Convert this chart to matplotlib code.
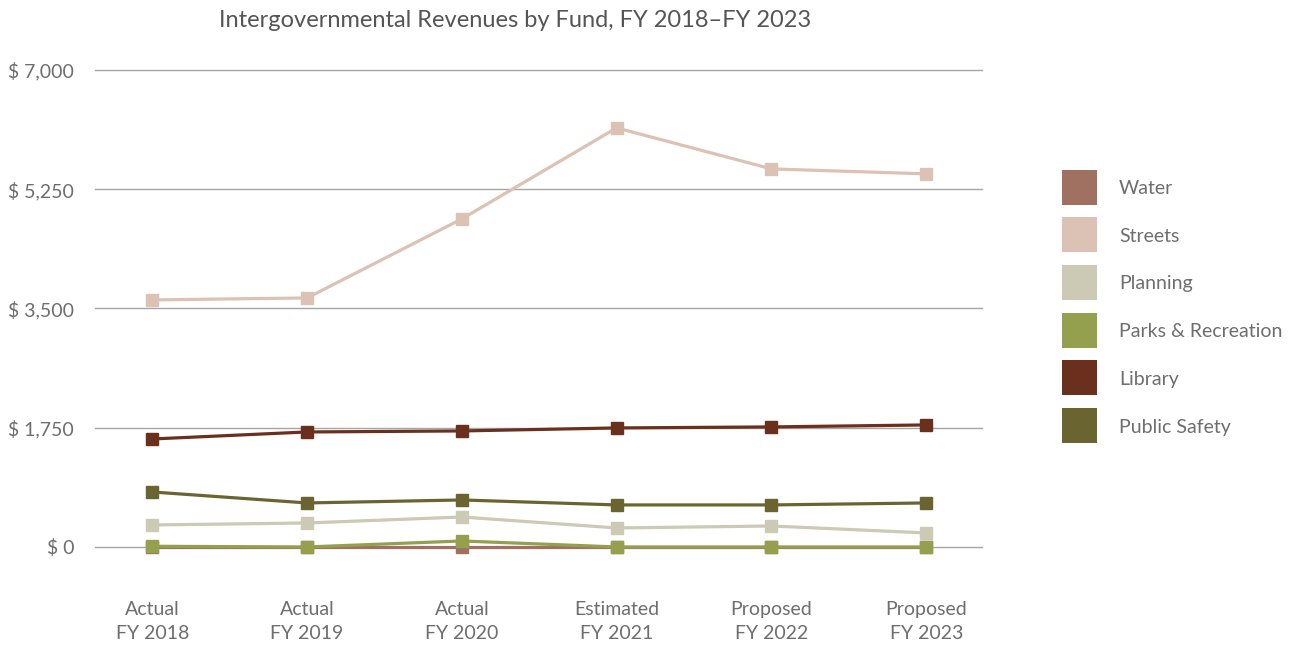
import matplotlib.pyplot as plt
from matplotlib.patches import Rectangle
from matplotlib.ticker import FuncFormatter

plt.rcParams['font.family'] = ['Lato', 'DejaVu Sans']

years = ["Actual\nFY 2018", "Actual\nFY 2019", "Actual\nFY 2020",
         "Estimated\nFY 2021", "Proposed\nFY 2022", "Proposed\nFY 2023"]

water = [0, 0, 0, 0, 0, 0]
streets = [3626, 3655, 4815, 6151, 5549, 5476]
planning = [323, 352, 440, 279, 308, 206]
parks = [10, 0, 88, 0, 0, 0]
library = [1585, 1688, 1703, 1747, 1762, 1791]
public_safety = [807, 646, 690, 617, 617, 646]

series = [
    ("Water", water, "#A07060"),
    ("Streets", streets, "#DCC2B4"),
    ("Planning", planning, "#CCC9B5"),
    ("Parks & Recreation", parks, "#95A04E"),
    ("Library", library, "#6B2F1E"),
    ("Public Safety", public_safety, "#6A6530"),
]

text_color = "#6E6E6E"

fig = plt.figure(figsize=(12.91, 6.46), dpi=100)
ax = fig.add_axes([0.0736, 0.1533, 0.687, 0.7383])

x = range(len(years))
for name, vals, col in series:
    ax.plot(x, vals, color=col, linewidth=2.3, marker='s', markersize=8.5,
            clip_on=False, zorder=3)

ax.set_ylim(0, 7000)
ax.set_xlim(-0.37, 5.36)
ax.set_yticks([0, 1750, 3500, 5250, 7000])
ax.yaxis.set_major_formatter(FuncFormatter(lambda v, p: "$ {:,.0f}".format(v)))
ax.set_xticks(list(x))
ax.set_xticklabels(years, linespacing=1.5)
ax.grid(axis='y', color="#A6A6A6", linewidth=1)
for gl in ax.get_ygridlines():
    gl.set_clip_on(False)
ax.set_axisbelow(True)
for s in ax.spines.values():
    s.set_visible(False)
ax.tick_params(axis='both', length=0, labelsize=14, labelcolor=text_color)
ax.tick_params(axis='x', pad=39)
ax.tick_params(axis='y', pad=15)

fig.text(0.399, 0.968, "Intergovernmental Revenues by Fund, FY 2018\u2013FY 2023",
         ha='center', va='center', fontsize=17, color="#555555")

# legend drawn as squares + labels in figure pixels
W, H = 1291, 646
for i, (name, _, col) in enumerate(series):
    yc = 187 + i * 47.7
    fig.add_artist(Rectangle((1062 / W, 1 - (yc + 17.5) / H), 35 / W, 35 / H,
                             transform=fig.transFigure, facecolor=col,
                             edgecolor='none'))
    fig.text(1119 / W, 1 - (yc + 1.5) / H, name, ha='left', va='center',
             fontsize=14, color=text_color)

fig.savefig("out.png", dpi=100)
